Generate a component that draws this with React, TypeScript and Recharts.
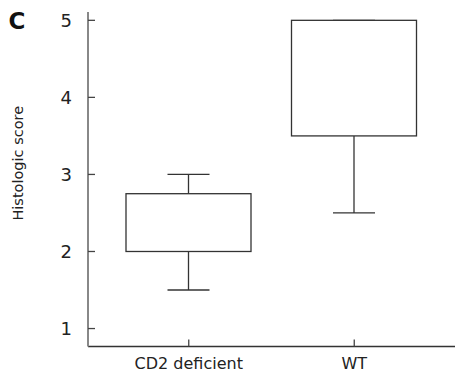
import React from 'react';
import { ComposedChart, Bar, XAxis, YAxis } from 'recharts';

const categories = ['CD2 deficient', 'WT'];
const whiskerMin = [1.5, 2.5];
const boxQ1 = [2, 3.5];
const boxQ3 = [2.75, 5];
const whiskerMax = [3, 5];
const yTicks = [1, 2, 3, 4, 5];
const yDomain = [0.767, 5.108];

const data = categories.map((name, i) => ({
  name,
  min: whiskerMin[i],
  q1: boxQ1[i],
  q3: boxQ3[i],
  max: whiskerMax[i],
  range: [whiskerMin[i], whiskerMax[i]],
}));

const FONT = '"DejaVu Sans", Verdana, sans-serif';
const STROKE = '#333';

const BoxShape = (props: any) => {
  const { x, y, width, height, payload } = props;
  const { min, q1, q3, max } = payload;
  const top = Math.min(y, y + height);
  const bottom = Math.max(y, y + height);
  const k = (bottom - top) / (max - min);
  const py = (v: number) => top + (max - v) * k;
  const cx = x + width / 2;
  const cap = 42;
  return (
    <g stroke={STROKE} strokeWidth={1.3} fill="none">
      <line x1={cx} x2={cx} y1={py(max)} y2={py(q3)} />
      <line x1={cx} x2={cx} y1={py(q1)} y2={py(min)} />
      <line x1={cx - cap / 2} x2={cx + cap / 2} y1={py(max)} y2={py(max)} />
      <line x1={cx - cap / 2} x2={cx + cap / 2} y1={py(min)} y2={py(min)} />
      <rect x={x} y={py(q3)} width={width} height={py(q1) - py(q3)} fill="#fff" />
    </g>
  );
};

const XTick = (props: any) => {
  const { x, y, payload } = props;
  return (
    <g>
      <line x1={x} x2={x} y1={y - 7} y2={y} stroke="#444" strokeWidth={1.3} />
      <text x={x} y={y + 22.5} textAnchor="middle" fontFamily={FONT} fontSize={16} fill="#222">
        {payload.value}
      </text>
    </g>
  );
};

const YTick = (props: any) => {
  const { x, y, payload } = props;
  return (
    <g>
      <line x1={x} x2={x + 7} y1={y} y2={y} stroke="#444" strokeWidth={1.3} />
      <text x={x - 16} y={y} dy={6.5} textAnchor="end" fontFamily={FONT} fontSize={18} fill="#222">
        {payload.value}
      </text>
    </g>
  );
};

const YLabel = (props: any) => {
  const { viewBox } = props;
  const cx = 23;
  const cy = viewBox.y + viewBox.height / 2 - 16;
  return (
    <text
      x={cx}
      y={cy}
      transform={`rotate(-90, ${cx}, ${cy})`}
      textAnchor="middle"
      fontFamily={FONT}
      fontSize={14.5}
      fill="#222"
    >
      Histologic score
    </text>
  );
};

export default function App() {
  return (
    <div style={{ position: 'absolute', left: 0, top: 0, width: 455, height: 373, background: '#fff' }}>
      <ComposedChart
        width={455}
        height={373}
        data={data}
        margin={{ top: 12, right: 0, bottom: 0, left: 0 }}
      >
        <XAxis
          dataKey="name"
          padding={{ left: 18, right: 18 }}
          height={26.5}
          tickSize={0}
          tickMargin={0}
          tickLine={false}
          axisLine={{ stroke: '#333', strokeWidth: 1.5 }}
          tick={<XTick />}
          interval={0}
        />
        <YAxis
          type="number"
          domain={yDomain}
          ticks={yTicks}
          allowDataOverflow
          width={88}
          tickSize={0}
          tickMargin={0}
          tickLine={false}
          axisLine={{ stroke: '#888', strokeWidth: 2 }}
          tick={<YTick />}
          label={<YLabel />}
        />
        <Bar dataKey="range" barSize={125} shape={<BoxShape />} isAnimationActive={false} />
      </ComposedChart>
      <svg width={40} height={40} style={{ position: 'absolute', left: 0, top: 0 }}>
        <text x={8.5} y={29} fontFamily={FONT} fontWeight="bold" fontSize={23} fill="#111">
          C
        </text>
      </svg>
    </div>
  );
}
